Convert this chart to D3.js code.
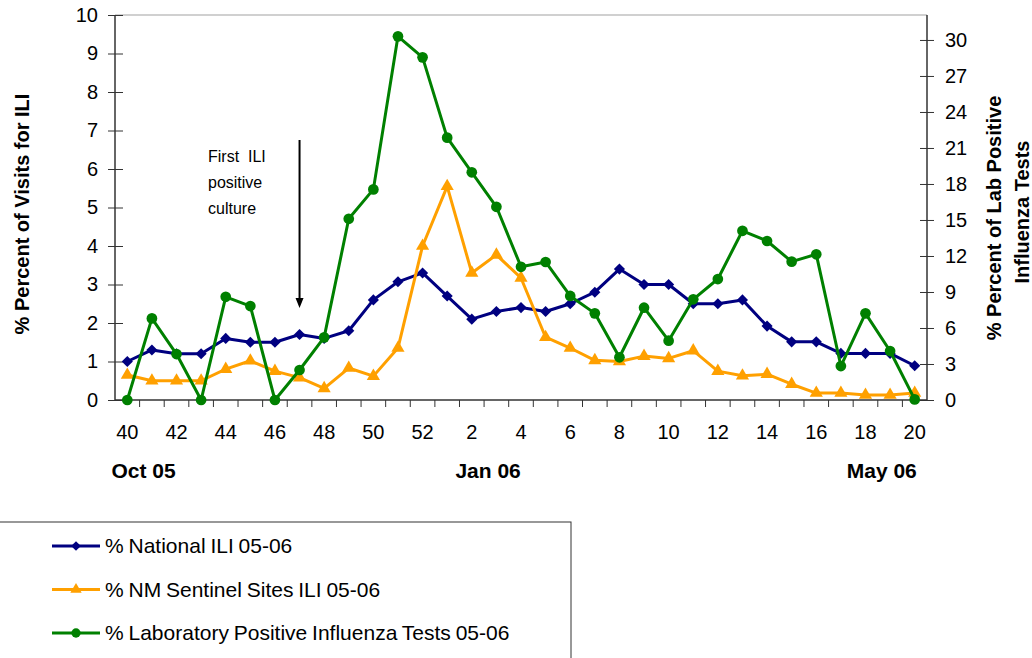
<!DOCTYPE html>
<html>
<head>
<meta charset="utf-8">
<script src="https://cdn.jsdelivr.net/npm/d3@7"></script>
<style>
  body { margin: 0; background: #fff; }
  svg { font-family: Arial, "Liberation Sans", sans-serif; }
</style>
</head>
<body>
<svg id="chart" width="1032" height="658"></svg>
<script>
// weeks of the 2005-06 season
const weeks = [40, 41, 42, 43, 44, 45, 46, 47, 48, 49, 50, 51, 52,
               1, 2, 3, 4, 5, 6, 7, 8, 9, 10, 11, 12, 13, 14, 15, 16, 17, 18, 19, 20];

// % National ILI (left axis)
const nationalIli = [1.0, 1.3, 1.2, 1.2, 1.6, 1.5, 1.5, 1.7, 1.6, 1.8, 2.6, 3.07, 3.3,
                     2.7, 2.1, 2.3, 2.4, 2.3, 2.5, 2.8, 3.4, 3.0, 3.0, 2.5, 2.5, 2.6, 1.92, 1.51, 1.51, 1.21, 1.21, 1.21, 0.89];

// % NM Sentinel Sites ILI (left axis)
const sentinelIli = [0.65, 0.5, 0.5, 0.5, 0.8, 1.02, 0.75, 0.58, 0.3, 0.83, 0.62, 1.35, 4.0,
                     5.55, 3.3, 3.77, 3.17, 1.63, 1.35, 1.03, 1.0, 1.14, 1.08, 1.28, 0.75, 0.63, 0.67, 0.41, 0.18, 0.18, 0.13, 0.13, 0.18];

// % Laboratory positive influenza tests (right axis)
const labPositive = [0, 6.8, 3.83, 0, 8.6, 7.83, 0, 2.5, 5.22, 15.1, 17.55, 30.3, 28.55,
                     21.86, 18.97, 16.1, 11.1, 11.5, 8.67, 7.22, 3.56, 7.69, 4.94, 8.39, 10.08, 14.1, 13.25, 11.53, 12.14, 2.83, 7.22, 4.08, 0.05];

const leftTicks = [0, 1, 2, 3, 4, 5, 6, 7, 8, 9, 10];
const rightTicks = [0, 3, 6, 9, 12, 15, 18, 21, 24, 27, 30];
// month labels sit on the left edge of these week bands
const monthLabels = [
  { week: 41, text: "Oct 05" },
  { week: 3, text: "Jan 06" },
  { week: 19, text: "May 06" }
];

const svg = d3.select("#chart");
const margin = { left: 115, right: 105, top: 15, bottom: 258 };
const W = 1032, H = 658;
const x0 = margin.left, x1 = W - margin.right, y0 = H - margin.bottom, y1 = margin.top;

const x = d3.scaleBand().domain(weeks).range([x0, x1]).padding(0);
const cx = w => x(w) + x.bandwidth() / 2;
const yL = d3.scaleLinear().domain([0, 10]).range([y0, y1]);
const yR = d3.scaleLinear().domain([0, 32.08]).range([y0, y1]);

// top border line
svg.append("line")
  .attr("x1", x0).attr("x2", x1).attr("y1", y1).attr("y2", y1)
  .attr("stroke", "#c0c0c0").attr("stroke-width", 1.5);

// left axis
const leftAxis = svg.append("g")
  .attr("transform", `translate(${x0},0)`)
  .call(d3.axisLeft(yL).tickValues(leftTicks).tickSizeInner(7).tickSizeOuter(0).tickPadding(10));
leftAxis.selectAll(".tick line").attr("x2", 8).attr("x1", -7);

// right axis
const rightAxis = svg.append("g")
  .attr("transform", `translate(${x1},0)`)
  .call(d3.axisRight(yR).tickValues(rightTicks).tickSizeInner(7).tickSizeOuter(0).tickPadding(11));
rightAxis.selectAll(".tick line").attr("x1", -7).attr("x2", 7);
rightAxis.select(".domain").attr("d", `M0,${y0}V${y1}`);
leftAxis.select(".domain").attr("d", `M0,${y0}V${y1}`);

// bottom axis: ticks on band boundaries, labels every other week
const bottom = svg.append("g").attr("transform", `translate(0,${y0})`);
bottom.append("line").attr("x1", x0).attr("x2", x1).attr("stroke", "#333").attr("stroke-width", 1.5);
bottom.selectAll("line.bt")
  .data(weeks.slice(1))
  .join("line")
  .attr("class", "bt")
  .attr("x1", d => x(d)).attr("x2", d => x(d))
  .attr("y1", 0).attr("y2", 7)
  .attr("stroke", "#333");
bottom.selectAll("text.wk")
  .data(weeks.filter(w => w % 2 === 0))
  .join("text")
  .attr("class", "wk")
  .attr("x", d => cx(d)).attr("y", 39)
  .attr("text-anchor", "middle")
  .attr("font-size", 20)
  .text(d => d);

svg.selectAll("text.month")
  .data(monthLabels)
  .join("text")
  .attr("class", "month")
  .attr("x", d => x(d.week) + 4).attr("y", 478)
  .attr("text-anchor", "middle")
  .attr("font-size", 21).attr("font-weight", "bold")
  .text(d => d.text);

svg.selectAll(".domain").attr("stroke", "#333").attr("stroke-width", 1.5);
svg.selectAll(".tick line").attr("stroke", "#333");
svg.selectAll(".tick text").attr("font-size", 20).attr("fill", "#000");

// axis titles
svg.append("text")
  .attr("transform", `translate(29,214) rotate(-90)`)
  .attr("text-anchor", "middle")
  .attr("font-size", 20).attr("font-weight", "bold")
  .text("% Percent of Visits for ILI");
svg.append("text")
  .attr("transform", `translate(1001,218) rotate(-90)`)
  .attr("text-anchor", "middle")
  .attr("font-size", 20).attr("font-weight", "bold")
  .text("% Percent of Lab Positive");
svg.append("text")
  .attr("transform", `translate(1029,212) rotate(-90)`)
  .attr("text-anchor", "middle")
  .attr("font-size", 20).attr("font-weight", "bold")
  .text("Influenza Tests");

// annotation
const note = svg.append("text").attr("font-size", 16).attr("x", 208);
["First  ILI", "positive", "culture"].forEach((t, i) => {
  note.append("tspan").attr("x", 208).attr("y", 162 + i * 26).attr("xml:space", "preserve").text(t);
});
const arrowX = cx(47);
svg.append("line")
  .attr("x1", arrowX).attr("x2", arrowX).attr("y1", 140).attr("y2", 300)
  .attr("stroke", "#000").attr("stroke-width", 2);
svg.append("path")
  .attr("d", `M${arrowX - 4},298L${arrowX + 4},298L${arrowX},308Z`)
  .attr("fill", "#000");

// series
const series = [
  { name: "% National ILI 05-06", values: nationalIli, y: yL, color: "#000080", symbol: "diamond" },
  { name: "% NM Sentinel Sites ILI 05-06", values: sentinelIli, y: yL, color: "#FFA000", symbol: "triangle" },
  { name: "% Laboratory Positive Influenza Tests 05-06", values: labPositive, y: yR, color: "#008000", symbol: "circle" }
];

function markerPath(kind, scale) {
  if (kind === "diamond") return d3.symbol(d3.symbolSquare, 62 * scale)();
  if (kind === "triangle") return d3.symbol(d3.symbolTriangle, 75 * scale)();
  return d3.symbol(d3.symbolCircle, 90 * scale)();
}

series.forEach(s => {
  const line = d3.line()
    .x((d, i) => cx(weeks[i]))
    .y(d => s.y(d));
  svg.append("path")
    .datum(s.values)
    .attr("d", line)
    .attr("fill", "none")
    .attr("stroke", s.color)
    .attr("stroke-width", 3)
    .attr("stroke-linejoin", "round");
  svg.append("g").selectAll("path")
    .data(s.values)
    .join("path")
    .attr("d", markerPath(s.symbol, 1))
    .attr("transform", (d, i) => `translate(${cx(weeks[i])},${s.y(d)})` + (s.symbol === "diamond" ? " rotate(45)" : ""))
    .attr("fill", s.color);
});

// legend
const legend = svg.append("g");
legend.append("rect")
  .attr("x", -2).attr("y", 522).attr("width", 573).attr("height", 150)
  .attr("fill", "#fff").attr("stroke", "#333").attr("stroke-width", 1);
series.forEach((s, i) => {
  const ly = 546 + i * 43.5;
  legend.append("line")
    .attr("x1", 52).attr("x2", 100).attr("y1", ly).attr("y2", ly)
    .attr("stroke", s.color).attr("stroke-width", 3);
  legend.append("path")
    .attr("d", markerPath(s.symbol, 0.75))
    .attr("transform", `translate(76,${ly})` + (s.symbol === "diamond" ? " rotate(45)" : ""))
    .attr("fill", s.color);
  legend.append("text")
    .attr("x", 105).attr("y", ly + 7)
    .attr("font-size", 21)
    .attr("word-spacing", -1)
    .text(s.name);
});
</script>
</body>
</html>
